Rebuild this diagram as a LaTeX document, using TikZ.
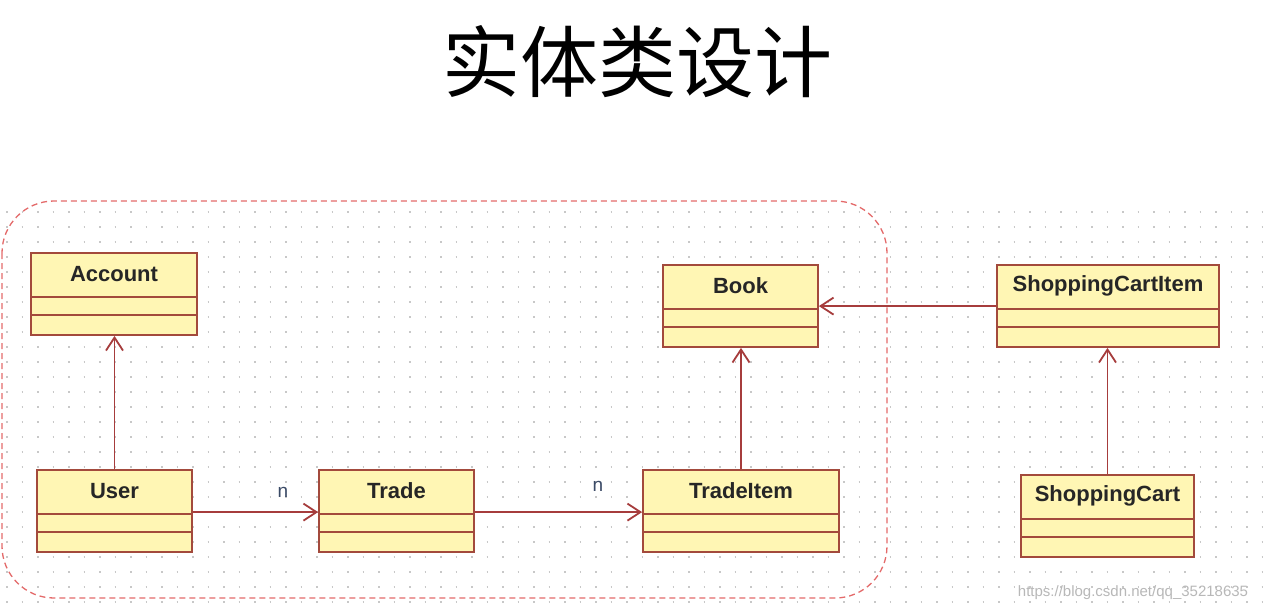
\documentclass[tikz,border=0pt]{standalone}
\usepackage{fontspec}
\setmainfont{Liberation Sans}
\newfontfamily\cjk{Noto Sans CJK SC}
\usepackage{xcolor}
\usetikzlibrary{arrows.meta}
\definecolor{classfill}{HTML}{FFF6B4}
\definecolor{classdraw}{HTML}{A34A3C}
\definecolor{assocline}{HTML}{A63C3C}
\definecolor{pkgline}{HTML}{E46A6A}
\definecolor{multtext}{HTML}{3A4A66}
\definecolor{griddot}{HTML}{C8C8C8}

\begin{document}
\begin{tikzpicture}[x=1pt, y=-1pt,
  classbox/.style={draw=classdraw, fill=classfill, line width=1.8pt,
    minimum height=82pt, inner sep=0pt,
    path picture={
      \draw[classdraw, line width=1.8pt]
        ([yshift=-44pt]path picture bounding box.north west) --
        ([yshift=-44pt]path picture bounding box.north east);
      \draw[classdraw, line width=1.8pt]
        ([yshift=-62pt]path picture bounding box.north west) --
        ([yshift=-62pt]path picture bounding box.north east);}},
  clsname/.style={label={[anchor=center, yshift=-22pt, text=black!85,
    font=\fontsize{22}{26}\selectfont\bfseries]north:#1}},
  assoc/.style={draw=assocline, line width=1.8pt,
    -{Straight Barb[length=13pt, width=17pt, line width=1.8pt]}},
  mult/.style={text=multtext, font=\fontsize{19}{22}\selectfont}]

  % page and dotted grid
  \fill[white] (0,0) rectangle (1264,611);
  \useasboundingbox (0,0) rectangle (1264,611);
  \foreach \gy in {212,227,...,605}
    \draw[griddot, line width=1.6pt, dash pattern=on 1.6pt off 13.9pt, dash phase=-6pt]
      (0,\gy) -- (1264,\gy);

  % title
  \node[font=\cjk\fontsize{78}{90}\selectfont] (title) at (637,62) {实体类设计};

  % package border
  \draw[pkgline, line width=1.3pt, dash pattern=on 6pt off 4pt, rounded corners=52pt]
    (2,201) rectangle (887,598);

  % classes
  \node[classbox, clsname=Account, minimum width=166pt] (account) at (114,294) {};
  \node[classbox, clsname=User, minimum width=155pt] (user) at (114.5,511) {};
  \node[classbox, clsname=Trade, minimum width=155pt] (trade) at (396.5,511) {};
  \node[classbox, clsname=TradeItem, minimum width=196pt] (tradeitem) at (741,511) {};
  \node[classbox, clsname=Book, minimum width=155pt] (book) at (740.5,306) {};
  \node[classbox, clsname=ShoppingCartItem, minimum width=222pt] (cartitem) at (1108,306) {};
  \node[classbox, clsname=ShoppingCart, minimum width=173pt] (cart) at (1107.5,516) {};

  % associations
  \draw[assoc] (user.north) -- (user.north |- account.south);
  \draw[assoc] ([yshift=-43pt]user.north east) -- ([yshift=-43pt]trade.north west);
  \draw[assoc] ([yshift=-43pt]trade.north east) -- ([yshift=-43pt]tradeitem.north west);
  \draw[assoc] (tradeitem.north) -- (tradeitem.north |- book.south);
  \draw[assoc] ([yshift=-42pt]cartitem.north west) -- ([yshift=-42pt]book.north east);
  \draw[assoc] (cart.north) -- (cart.north |- cartitem.south);

  % multiplicities
  \node[mult] (n1) at (283,492) {n};
  \node[mult] (n2) at (598,486) {n};

  % watermark
  \node[text=black!28, font=\fontsize{15}{18}\selectfont] (mark) at (1133,593)
    {https://blog.csdn.net/qq\_35218635};
\end{tikzpicture}
\end{document}
